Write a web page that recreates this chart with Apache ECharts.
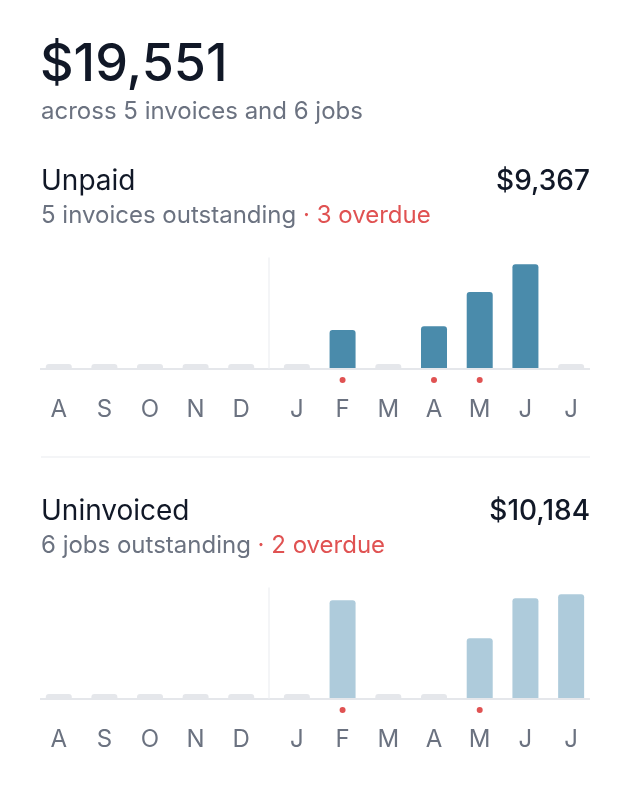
<!DOCTYPE html>
<html lang="en">
<head>
  <meta charset="utf-8">
  <style>
    body { margin: 0; background: #fff; }
    #container { width: 630px; height: 786px; }
  </style>
</head>
<body>
  <div id="container"></div>
  <script src="https://cdn.jsdelivr.net/npm/echarts@6/dist/echarts.min.js"></script>
  <script>
    // months, first 5 belong to last year
    var months = ['A', 'S', 'O', 'N', 'D', 'J', 'F', 'M', 'A', 'M', 'J', 'J'];
    var splitAt = 5;

    var unpaid = [0, 0, 0, 0, 0, 0, 1370, 0, 1510, 2740, 3747, 0];
    var unpaidOverdue = [0, 0, 0, 0, 0, 0, 1, 0, 1, 1, 0, 0];
    var uninvoiced = [0, 0, 0, 0, 0, 0, 2757, 0, 0, 1688, 2813, 2926];
    var uninvoicedOverdue = [0, 0, 0, 0, 0, 0, 1, 0, 0, 1, 0, 0];

    var totalText = '$19,551';
    var totalSub = 'across 5 invoices and 6 jobs';
    var panelTitles = ['Unpaid', 'Uninvoiced'];
    var panelAmounts = ['$9,367', '$10,184'];
    var panelSubs = ['5 invoices outstanding', '6 jobs outstanding'];
    var panelOverdue = ['3 overdue', '2 overdue'];

    var FONT = 'Inter';
    var DARK = '#111827';
    var GRAY = '#6b7280';
    var RED = '#e05252';
    var EMPTY = '#e5e7eb';

    var dom = document.getElementById('container');
    var myChart = echarts.init(dom, null, { renderer: 'canvas' });

    var grid = [], xAxis = [], yAxis = [], series = [], title = [];

    function txt(t, left, top, size, weight, color, extra) {
      var o = {
        text: t, top: top, padding: 0,
        textStyle: { fontFamily: FONT, fontSize: size, fontWeight: weight, color: color, lineHeight: size }
      };
      if (left < 0) o.right = -left; else o.left = left;
      if (extra) o.textStyle.rich = extra;
      return o;
    }

    title.push(txt(totalText, 40, 39, 52, 500, DARK));
    title.push(txt(totalSub, 41, 100, 24, 400, GRAY));

    function addPanel(n, values, overdue, color, dy) {
      var top = 258 + dy;
      var yMax = Math.max.apply(null, values) * 1.06;

      title.push(txt(panelTitles[n], 41, 168 + dy, 28, 400, DARK));
      title.push(txt(panelAmounts[n], -40, 168 + dy, 28, 500, DARK));
      title.push(txt('{g|' + panelSubs[n] + '}{r| · ' + panelOverdue[n] + '}', 41, 204 + dy, 24, 400, GRAY, {
        g: { fontFamily: FONT, fontSize: 24, color: GRAY },
        r: { fontFamily: FONT, fontSize: 24, color: RED }
      }));

      [[0, splitAt], [splitAt, months.length]].forEach(function (p, k) {
        var gi = grid.length;
        grid.push(k === 0
          ? { left: 36, width: 228, top: top, height: 110 }
          : { left: 274, right: 36, top: top, height: 110 });
        xAxis.push({
          type: 'category', gridIndex: gi,
          data: months.slice(p[0], p[1]),
          axisLine: { show: false },
          axisTick: { show: false },
          axisLabel: {
            margin: 9,
            interval: 0,
            formatter: function (v, i) {
              return (overdue[p[0] + i] ? '{dot| }' : '{no| }') + '\n{m|' + v + '}';
            },
            rich: {
              dot: { width: 6, height: 6, borderRadius: 3, backgroundColor: RED, fontSize: 1, lineHeight: 6 },
              no: { width: 6, height: 6, fontSize: 1, lineHeight: 6 },
              m: { fontFamily: FONT, fontSize: 24, color: GRAY, lineHeight: 54 }
            }
          }
        });
        yAxis.push({
          type: 'value', gridIndex: gi, min: 0, max: yMax,
          show: k === 1, offset: 5,
          axisLine: { show: true, lineStyle: { color: '#f1f2f4', width: 1.5 } },
          axisLabel: { show: false }, axisTick: { show: false }, splitLine: { show: false }
        });
        series.push({
          type: 'bar', xAxisIndex: gi, yAxisIndex: gi,
          data: values.slice(p[0], p[1]),
          barWidth: 26, barMinHeight: 4,
          silent: true,
          itemStyle: {
            borderRadius: [3, 3, 0, 0],
            color: function (d) { return d.value ? color : EMPTY; }
          }
        });
      });
    }

    addPanel(0, unpaid, unpaidOverdue, '#4a8bab', 0);
    addPanel(1, uninvoiced, uninvoicedOverdue, '#aecbdb', 330);

    var option = {
      animation: false,
      title: title,
      grid: grid,
      xAxis: xAxis,
      yAxis: yAxis,
      series: series,
      graphic: [
        { type: 'line', shape: { x1: 40, y1: 369, x2: 590, y2: 369 }, style: { stroke: EMPTY, lineWidth: 2 } },
        { type: 'line', shape: { x1: 41, y1: 457, x2: 590, y2: 457 }, style: { stroke: '#f1f2f4', lineWidth: 1.5 } },
        { type: 'line', shape: { x1: 40, y1: 699, x2: 590, y2: 699 }, style: { stroke: EMPTY, lineWidth: 2 } }
      ]
    };

    myChart.setOption(option);
    window.addEventListener('resize', myChart.resize);
  </script>
</body>
</html>
